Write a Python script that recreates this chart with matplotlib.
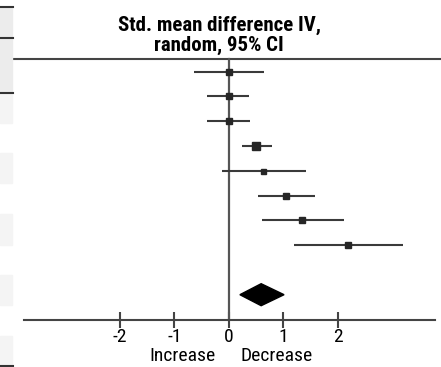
import matplotlib
matplotlib.use("Agg")
import matplotlib.pyplot as plt
from matplotlib.patches import Polygon, Rectangle
from matplotlib import font_manager

# Study estimates (std. mean difference, 95% CI)
means = [0.00, 0.00, 0.00, 0.50, 0.63, 1.04, 1.34, 2.18]
lows = [-0.64, -0.40, -0.40, 0.23, -0.12, 0.54, 0.60, 1.19]
highs = [0.64, 0.37, 0.38, 0.78, 1.41, 1.58, 2.11, 3.19]
weights = [4.0, 4.0, 4.0, 5.2, 3.6, 4.8, 4.0, 3.8]
# Pooled estimate
pooled_mean, pooled_low, pooled_high = 0.59, 0.20, 1.01
tick_vals = [-2, -1, 0, 1, 2]
tick_labels = ['-2', '-1', '0', '1', '2']
title = "Std. mean difference IV,\nrandom, 95% CI"
left_label, right_label = "Increase", "Decrease"

entries = font_manager.fontManager.ttflist
fam_names = {f.name for f in entries}
cands = ['Roboto Condensed', 'Archivo Narrow', 'PT Sans Narrow', 'Liberation Sans Narrow',
         'Arial Narrow', 'Fira Sans Condensed', 'Barlow Semi Condensed']
FONT = 'DejaVu Sans'
for c in cands:
    if c in fam_names:
        FONT = c
        break
plt.rcParams['font.family'] = [FONT, 'DejaVu Sans']

W, H = 441, 367
fig = plt.figure(figsize=(W / 100, H / 100), dpi=100)
ax = fig.add_axes([0, 0, 1, 1])
px_per_unit = 54.5
x0 = 229
ax.set_xlim(-x0 / px_per_unit, (W - x0) / px_per_unit)
row_px, row0 = 24.8, 71.5
ax.set_ylim((H - row0) / row_px, -row0 / row_px)
ax.patch.set_alpha(0)

# left table remnants
def band(y0, y1, color):
    fig.patches.append(Rectangle((0, 1 - y1 / H), 12 / W, (y1 - y0) / H,
                                 transform=fig.transFigure, color=color, zorder=0))
band(7, 93, '#ececec')
for a, b in [(93, 123), (153, 183), (214, 245), (275, 305), (336, 366)]:
    band(a, b, '#f4f4f4')
for yl in [7, 38, 93, 366]:
    fig.lines.append(plt.Line2D([0, 13 / W], [1 - yl / H] * 2, transform=fig.transFigure,
                                color='#333333', lw=1.5))

n = len(means)
ax.axhline(-0.52, xmin=13 / W, xmax=1, color='#444444', lw=1.5)
ax.plot([0, 0], [-0.52, n + 2], color='#555555', lw=1.6, zorder=2)

for i, (m, lo, hi, w) in enumerate(zip(means, lows, highs, weights)):
    ax.plot([lo, hi], [i, i], color='#3a3a3a', lw=1.5, zorder=3, solid_capstyle='butt')
    ax.plot(m, i, 's', color='#262626', ms=w, zorder=4)

dy = 11 / row_px
ax.add_patch(Polygon([[pooled_low, n + 1], [pooled_mean, n + 1 - dy],
                      [pooled_high, n + 1], [pooled_mean, n + 1 + dy]],
                     closed=True, color='black', zorder=4))

for s in ['top', 'right', 'left']:
    ax.spines[s].set_visible(False)
ax.spines['bottom'].set_position(('data', n + 2))
ax.spines['bottom'].set_bounds((24 - x0) / px_per_unit, (435 - x0) / px_per_unit)
ax.spines['bottom'].set_color('#444444')
ax.spines['bottom'].set_linewidth(1.5)
ax.set_yticks([])
ax.set_xticks(tick_vals)
ax.set_xticklabels(tick_labels, fontsize=14)
ax.tick_params(axis='x', direction='inout', length=12, width=1.5, color='#444444', pad=0)

lab_y = (356 - row0) / row_px
ax.text(-0.86, lab_y, left_label, ha='center', va='center', fontsize=14)
ax.text(0.88, lab_y, right_label, ha='center', va='center', fontsize=14)

fig.text(219 / W, 1 - 35 / H, title, ha='center', va='center', fontsize=15,
         fontweight='bold', linespacing=1.05)

fig.savefig('out.png', dpi=100)
